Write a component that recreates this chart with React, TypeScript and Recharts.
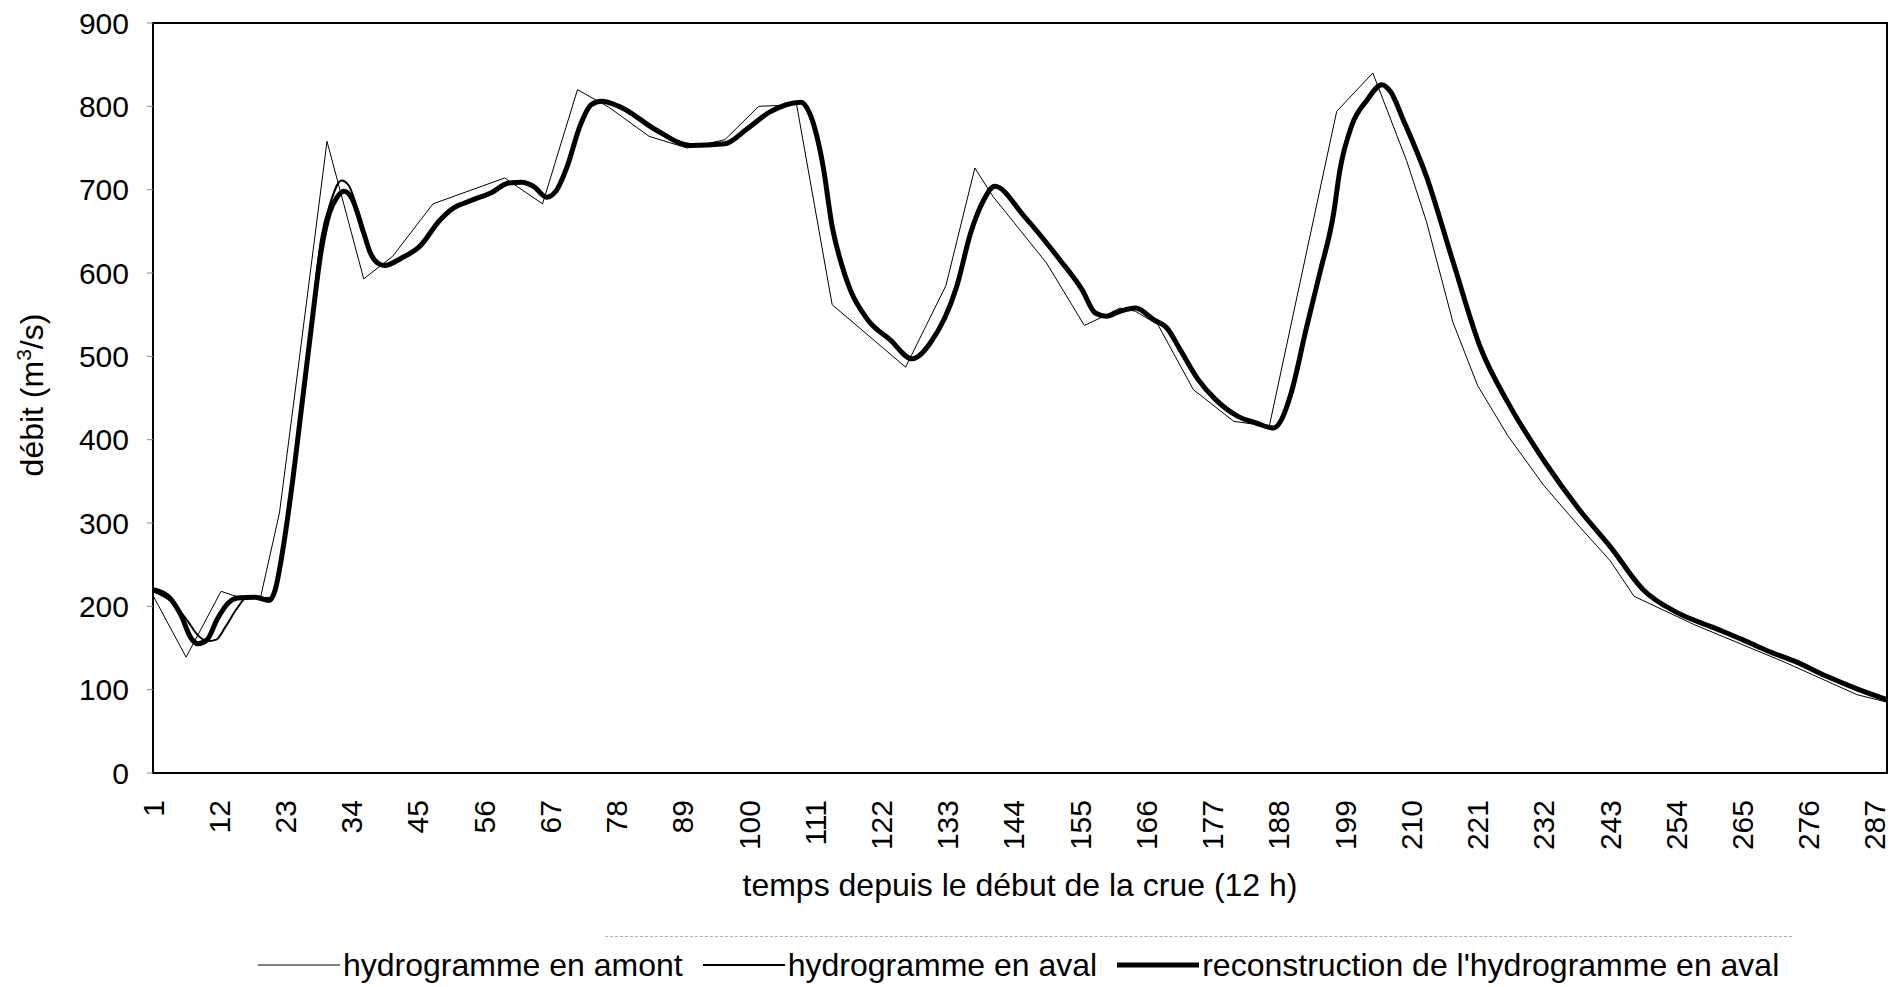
import React from "react";
import {
  LineChart,
  Line,
  XAxis,
  YAxis,
  ReferenceArea,
  Legend,
} from "recharts";

const FONT = '"Liberation Sans", Arial, sans-serif';

// time steps (12 h) shown on the category axis
const xTicks = [
  1, 12, 23, 34, 45, 56, 67, 78, 89, 100, 111, 122, 133, 144, 155, 166, 177,
  188, 199, 210, 221, 232, 243, 254, 265, 276, 287,
];
const yTicks = [0, 100, 200, 300, 400, 500, 600, 700, 800, 900];

// [time step, discharge m3/s]
const amont = [
  [1, 213], [6.5, 139], [12.3, 218], [14.8, 212], [18.9, 212], [22, 312],
  [25, 480], [29.9, 758], [36, 593], [40.8, 620], [47.5, 683], [59.4, 714],
  [65.7, 683], [71.5, 820], [76.7, 799], [83.4, 764], [89.7, 750], [96, 760],
  [101.6, 800], [107.9, 802], [113.8, 562], [126, 487], [132.7, 585],
  [137.5, 726], [140.5, 692], [149.4, 612], [155.7, 537], [158.3, 546],
  [161.6, 558], [164.2, 554], [167.9, 538], [173.8, 460], [180.5, 422],
  [186.4, 416], [197.6, 794], [203.6, 840], [209.2, 735], [212.5, 662],
  [216.9, 541], [221, 465], [226, 405], [232, 345], [238, 295], [243, 255],
  [247, 212], [257, 178], [272, 133], [284, 94], [289, 85],
];

const aval = [
  [1, 218], [4, 206], [6.5, 185], [8.5, 165], [10, 158], [11.5, 160],
  [13, 175], [15, 198], [16.5, 210], [20, 210], [21, 212], [22.3, 250],
  [24, 335], [25.7, 440], [27.3, 540], [28.9, 640], [30.5, 685], [32.3, 711],
  [33.5, 705], [36, 650], [37.1, 625], [39.4, 610], [42.3, 618], [45.3, 632],
  [48.6, 663], [50.5, 676], [54.2, 688], [57.1, 696], [60.1, 708],
  [62.3, 709], [64.2, 704], [66.4, 691], [67.9, 698], [69.8, 728],
  [71.9, 776], [73.8, 802], [75.5, 806], [78.4, 800], [84.7, 771],
  [90.3, 753], [96, 755], [99.7, 773], [103.4, 793], [108.6, 805],
  [110.1, 791], [112.3, 728], [113.8, 656], [115.3, 612], [116.8, 580],
  [119.7, 544], [123.4, 520], [127.1, 497], [130.1, 516], [134.5, 584],
  [136.8, 648], [139, 688], [140.8, 704], [145.7, 668], [151.6, 616],
  [155.3, 580], [157.5, 552], [159.4, 548], [161.6, 554], [164.2, 558],
  [167.2, 544], [169.4, 534], [171.6, 508], [174.6, 472], [177.5, 448],
  [181.2, 428], [184.2, 420], [187.1, 414], [188.5, 425], [190, 455],
  [192.6, 535], [194.8, 600], [197.1, 672], [198.1, 722], [200.1, 777],
  [202.6, 807], [205.1, 826], [206.5, 818], [208.7, 783], [212.5, 716],
  [216.9, 614], [221.5, 510], [226, 445], [232, 375], [238, 315], [243, 272],
  [248.5, 220], [254, 193], [260, 175], [265, 160], [269, 147], [274, 133],
  [279, 116], [284, 101], [289, 88],
];

const reconstruction = [
  [1, 220], [3.5, 212], [5.6, 190], [7.3, 162], [8.5, 155], [10, 160],
  [11.7, 185], [13.5, 204], [15, 210], [18, 211], [20.3, 207], [21.3, 220],
  [22.5, 265], [24, 340], [25.7, 440], [27.3, 535], [28.9, 625], [30.3, 672],
  [31.5, 690], [32.7, 698], [34, 690], [36, 648], [37.1, 624], [38.3, 612],
  [39.4, 609], [42.3, 618], [45.3, 632], [48.6, 663], [50.5, 676],
  [54.2, 688], [57.1, 696], [60.1, 708], [62.3, 709], [64.2, 704],
  [66.4, 691], [67.9, 698], [69.8, 728], [71.9, 776], [73.8, 802],
  [75.5, 806], [78.4, 800], [84.7, 771], [90.3, 753], [96, 755], [99.7, 773],
  [103.4, 793], [108.6, 805], [110.1, 791], [112.3, 728], [113.8, 656],
  [115.3, 612], [116.8, 580], [119.7, 544], [123.4, 520], [127.1, 497],
  [130.1, 516], [134.5, 584], [136.8, 648], [139, 688], [140.8, 704],
  [145.7, 668], [151.6, 616], [155.3, 580], [157.5, 552], [159.4, 548],
  [161.6, 554], [164.2, 558], [167.2, 544], [169.4, 534], [171.6, 508],
  [174.6, 472], [177.5, 448], [181.2, 428], [184.2, 420], [187.1, 414],
  [188.5, 425], [190, 455], [192.6, 535], [194.8, 600], [197.1, 672],
  [198.1, 722], [200.1, 777], [202.6, 807], [205.1, 826], [206.5, 818],
  [208.7, 783], [212.5, 716], [216.9, 614], [221.5, 510], [226, 445],
  [232, 375], [238, 315], [243, 272], [248.5, 220], [254, 193], [260, 175],
  [265, 160], [269, 147], [274, 133], [279, 116], [284, 101], [289, 88],
];

const toRows = (pts: number[][]) => pts.map(([t, v]) => ({ t, v }));

const series = [
  { key: "amont", name: "hydrogramme en amont", rows: toRows(amont), width: 1, type: "linear" },
  { key: "aval", name: "hydrogramme en aval", rows: toRows(aval), width: 2, type: "monotone" },
  { key: "recon", name: "reconstruction de l'hydrogramme en aval", rows: toRows(reconstruction), width: 5, type: "monotone" },
];

const XTick = ({ x, y, payload }: any) => (
  <text
    x={x}
    y={y}
    transform={`rotate(-90 ${x} ${y})`}
    textAnchor="end"
    dy="0.35em"
    fontSize={30}
    fontFamily={FONT}
    fill="#000"
  >
    {payload.value}
  </text>
);

const XTitle = () => (
  <text x={1020} y={896} textAnchor="middle" fontSize={32} fontFamily={FONT} fill="#000">
    temps depuis le début de la crue (12 h)
  </text>
);

const YTitle = () => (
  <text
    x={32}
    y={395}
    transform="rotate(-90 32 395)"
    textAnchor="middle"
    dy="0.35em"
    fontSize={32}
    fontFamily={FONT}
    fill="#000"
  >
    débit (m
    <tspan dy={-12} fontSize={21}>3</tspan>
    <tspan dy={12}>/s)</tspan>
  </text>
);

const HydroLegend = () => (
  <div style={{ position: "relative", width: 1898, height: 50, fontFamily: FONT }}>
    <div
      style={{
        position: "absolute",
        left: 605,
        top: -4,
        width: 1187,
        borderTop: "1px dashed #b0b0b0",
      }}
    />
    <div
      style={{
        position: "absolute",
        left: 258,
        top: 0,
        height: 50,
        display: "flex",
        alignItems: "center",
        fontSize: 32,
        color: "#000",
        whiteSpace: "nowrap",
      }}
    >
      {series.map((s) => (
        <div key={s.key} style={{ display: "flex", alignItems: "center", marginRight: 20 }}>
          <svg width={82} height={10}>
            <line x1={0} y1={5} x2={82} y2={5} stroke="#000" strokeWidth={s.width} />
          </svg>
          <span style={{ marginLeft: 3 }}>{s.name}</span>
        </div>
      ))}
    </div>
  </div>
);

export default function App() {
  return (
    <div
      style={{
        position: "absolute",
        left: 0,
        top: 0,
        width: 1898,
        height: 987,
        background: "#fff",
      }}
    >
      <LineChart
        width={1898}
        height={987}
        margin={{ top: 23, right: 11, left: 0, bottom: 94 }}
        style={{ fontFamily: FONT }}
      >
        <XAxis
          type="number"
          dataKey="t"
          domain={[1, 289]}
          ticks={xTicks}
          interval={0}
          allowDataOverflow
          axisLine={false}
          tickLine={false}
          tickSize={0}
          tickMargin={27}
          height={120}
          tick={<XTick />}
          label={<XTitle />}
        />
        <YAxis
          type="number"
          domain={[0, 900]}
          ticks={yTicks}
          interval={0}
          width={153}
          axisLine={false}
          tickLine={{ stroke: "#888", strokeWidth: 1 }}
          tickSize={6}
          tickMargin={18}
          tick={{ fontSize: 30, fill: "#000", fontFamily: FONT }}
          label={<YTitle />}
        />
        <ReferenceArea
          x1={1}
          x2={289}
          y1={0}
          y2={900}
          fill="none"
          fillOpacity={0}
          stroke="#000"
          strokeWidth={2}
          ifOverflow="visible"
        />
        {series.map((s) => (
          <Line
            key={s.key}
            data={s.rows}
            dataKey="v"
            name={s.name}
            type={s.type as any}
            stroke="#000"
            strokeWidth={s.width}
            strokeLinejoin="round"
            dot={false}
            activeDot={false}
            isAnimationActive={false}
          />
        ))}
        <Legend
          layout="horizontal"
          verticalAlign="middle"
          align="center"
          content={<HydroLegend />}
          wrapperStyle={{ top: 940, left: 0, width: 1898, height: 50 }}
        />
      </LineChart>
    </div>
  );
}
